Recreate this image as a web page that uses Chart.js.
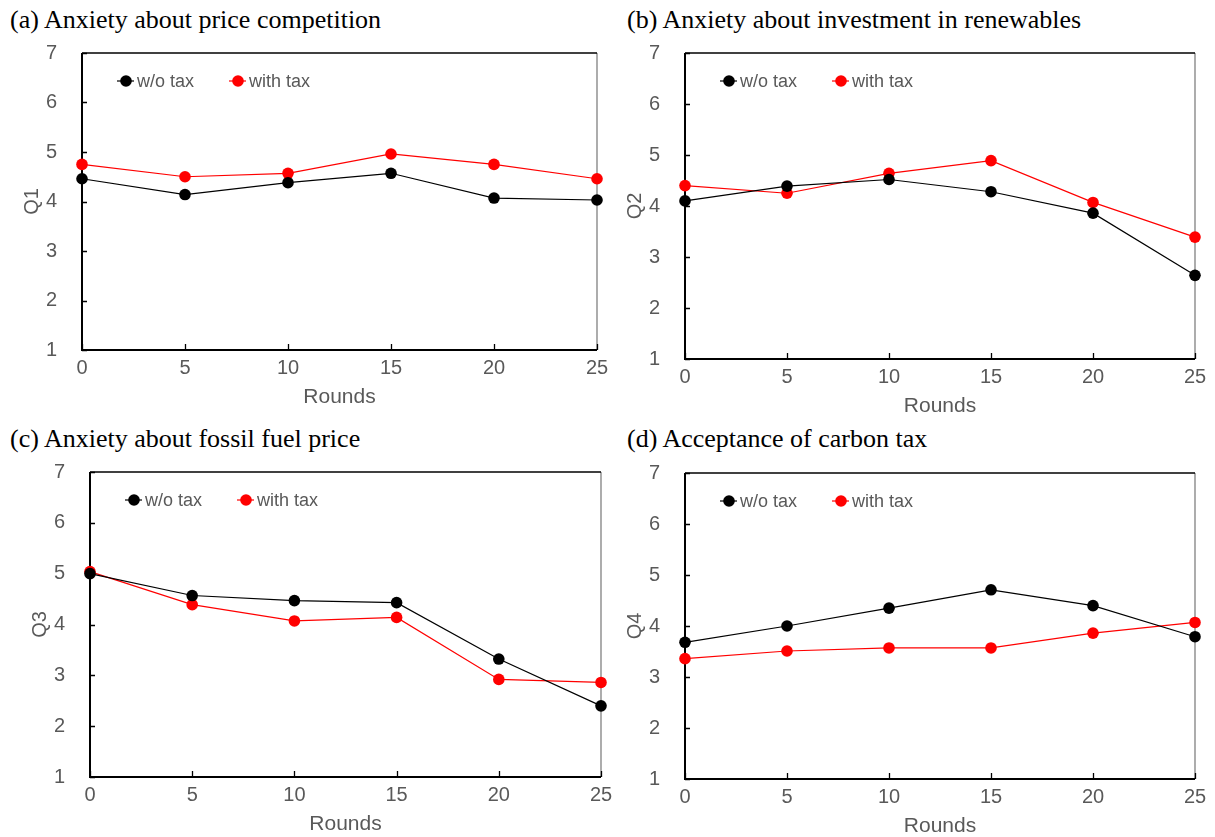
<!DOCTYPE html>
<html>
<head>
<meta charset="utf-8">
<script src="https://cdn.jsdelivr.net/npm/chart.js@4.4.0/dist/chart.umd.min.js"></script>
<style>
  html, body { margin: 0; padding: 0; background: #fff; }
  body { width: 1215px; height: 837px; position: relative; overflow: hidden; }
  .title { position: absolute; font-family: "Liberation Serif", "Times New Roman", serif;
           font-size: 26px; line-height: 26px; color: #000; white-space: nowrap; }
  .panel { position: absolute; }
</style>
</head>
<body>
<div class="title" style="left:10px;top:7px">(a) Anxiety about price competition</div>
<div class="title" style="left:627px;top:7px">(b) Anxiety about investment in renewables</div>
<div class="title" style="left:10px;top:426px">(c) Anxiety about fossil fuel price</div>
<div class="title" style="left:627px;top:426px">(d) Acceptance of carbon tax</div>

<div class="panel" style="left:0px;top:16px;width:620px;height:404px"><canvas id="q1"></canvas></div>
<div class="panel" style="left:600px;top:16px;width:615px;height:413px"><canvas id="q2"></canvas></div>
<div class="panel" style="left:0px;top:435px;width:620px;height:412px"><canvas id="q3"></canvas></div>
<div class="panel" style="left:600px;top:436px;width:615px;height:413px"><canvas id="q4"></canvas></div>

<script>
// Survey rounds and mean scores (1-7 scale)
const rounds = [0, 5, 10, 15, 20, 25];
const seriesLabels = ['w/o tax', 'with tax'];

const q1WithoutTax = [4.46, 4.14, 4.38, 4.57, 4.07, 4.03];
const q1WithTax    = [4.75, 4.50, 4.57, 4.96, 4.75, 4.46];

const q2WithoutTax = [4.10, 4.39, 4.52, 4.28, 3.86, 2.64];
const q2WithTax    = [4.40, 4.25, 4.64, 4.89, 4.07, 3.39];

const q3WithoutTax = [5.00, 4.57, 4.47, 4.43, 3.32, 2.40];
const q3WithTax    = [5.04, 4.39, 4.07, 4.14, 2.92, 2.86];

const q4WithoutTax = [3.68, 4.00, 4.35, 4.71, 4.40, 3.79];
const q4WithTax    = [3.36, 3.51, 3.57, 3.57, 3.86, 4.07];

const yTicks = [1, 2, 3, 4, 5, 6, 7];
const xTicks = [0, 5, 10, 15, 20, 25];

const GRAY = '#595959';
const SANS = '"Liberation Sans", Arial, sans-serif';
const Y_AXIS_WIDTH = 82;
const X_AXIS_HEIGHT = 70;
const TOP_SPACE = 37;   // room above the plot for the top y label and its padding

// Frame around the plot area with inward tick marks
const framePlugin = {
  id: 'frame',
  beforeDatasetsDraw(chart) {
    const { ctx, chartArea: a, scales: { x, y } } = chart;
    ctx.save();
    ctx.lineWidth = 1.3;
    ctx.strokeStyle = '#808080';
    ctx.beginPath();
    ctx.moveTo(a.right, a.top); ctx.lineTo(a.right, a.bottom);
    ctx.stroke();
    ctx.strokeStyle = '#000';
    ctx.beginPath();
    ctx.moveTo(a.left, a.top); ctx.lineTo(a.right, a.top);
    ctx.stroke();
    ctx.lineWidth = 2;
    ctx.beginPath();
    ctx.moveTo(a.left, a.top); ctx.lineTo(a.left, a.bottom); ctx.lineTo(a.right, a.bottom);
    ctx.stroke();
    ctx.lineWidth = 1.3;
    ctx.beginPath();
    yTicks.forEach(v => {
      const py = Math.round(y.getPixelForValue(v)) + 0.5;
      ctx.moveTo(a.left, py); ctx.lineTo(a.left + 5, py);
    });
    xTicks.forEach(v => {
      const px = Math.round(x.getPixelForValue(v)) + 0.5;
      ctx.moveTo(px, a.bottom); ctx.lineTo(px, a.bottom - 6);
    });
    ctx.stroke();
    ctx.restore();
  }
};

// Legend drawn inside the plot area
const innerLegendPlugin = {
  id: 'innerLegend',
  afterDraw(chart) {
    const { ctx, chartArea: a } = chart;
    const offsets = [44, 156];
    const cy = a.top + 28;
    ctx.save();
    chart.data.datasets.forEach((ds, i) => {
      const cx = a.left + offsets[i];
      ctx.strokeStyle = ds.borderColor;
      ctx.lineWidth = 1.2;
      ctx.beginPath();
      ctx.moveTo(cx - 9, cy); ctx.lineTo(cx + 8, cy);
      ctx.stroke();
      ctx.fillStyle = ds.backgroundColor;
      ctx.beginPath();
      ctx.arc(cx, cy, 5.8, 0, Math.PI * 2);
      ctx.fill();
      ctx.fillStyle = GRAY;
      ctx.font = '18px ' + SANS;
      ctx.textBaseline = 'middle';
      ctx.textAlign = 'left';
      ctx.fillText(ds.label, cx + 11, cy + 1);
    });
    ctx.restore();
  }
};

function toPoints(values) {
  return rounds.map((r, i) => ({ x: r, y: values[i] }));
}

function makeDataset(label, values, color) {
  return {
    label,
    data: toPoints(values),
    borderColor: color,
    backgroundColor: color,
    borderWidth: 1.2,
    pointRadius: 5.8,
    pointBorderWidth: 0,
    pointBackgroundColor: color,
    tension: 0,
    clip: false
  };
}

function makePanel(id, yLabel, noTax, withTax, area) {
  new Chart(document.getElementById(id), {
    type: 'line',
    data: {
      datasets: [
        makeDataset(seriesLabels[0], noTax, '#000000'),
        makeDataset(seriesLabels[1], withTax, '#ff0000')
      ]
    },
    options: {
      responsive: true,
      maintainAspectRatio: false,
      animation: false,
      events: [],
      layout: { padding: { left: area.left, top: TOP_SPACE, right: area.right, bottom: 0 } },
      plugins: { legend: { display: false }, tooltip: { enabled: false } },
      scales: {
        x: {
          type: 'linear', min: 0, max: 25,
          afterBuildTicks: s => { s.ticks = xTicks.map(v => ({ value: v })); },
          afterFit: s => { s.height = X_AXIS_HEIGHT; },
          grid: { display: false, drawTicks: false },
          border: { display: false },
          ticks: { color: GRAY, font: { family: SANS, size: 20 }, padding: 6, maxRotation: 0 },
          title: { display: true, text: 'Rounds', color: GRAY,
                   font: { family: SANS, size: 21 }, padding: { top: 0, bottom: 10 } }
        },
        y: {
          type: 'linear', min: 1, max: 7,
          afterBuildTicks: s => { s.ticks = yTicks.map(v => ({ value: v })); },
          afterFit: s => { s.width = Y_AXIS_WIDTH; },
          grid: { display: false, drawTicks: false },
          border: { display: false },
          ticks: { color: GRAY, font: { family: SANS, size: 20 }, padding: 25 },
          title: { display: true, text: yLabel, color: GRAY,
                   font: { family: SANS, size: 20 }, padding: { top: 20, bottom: 0 } }
        }
      }
    },
    plugins: [framePlugin, innerLegendPlugin]
  });
}

makePanel('q1', 'Q1', q1WithoutTax, q1WithTax, { left: 0, right: 23 });
makePanel('q2', 'Q2', q2WithoutTax, q2WithTax, { left: 3, right: 20 });
makePanel('q3', 'Q3', q3WithoutTax, q3WithTax, { left: 8, right: 19 });
makePanel('q4', 'Q4', q4WithoutTax, q4WithTax, { left: 3, right: 20 });
</script>
</body>
</html>
